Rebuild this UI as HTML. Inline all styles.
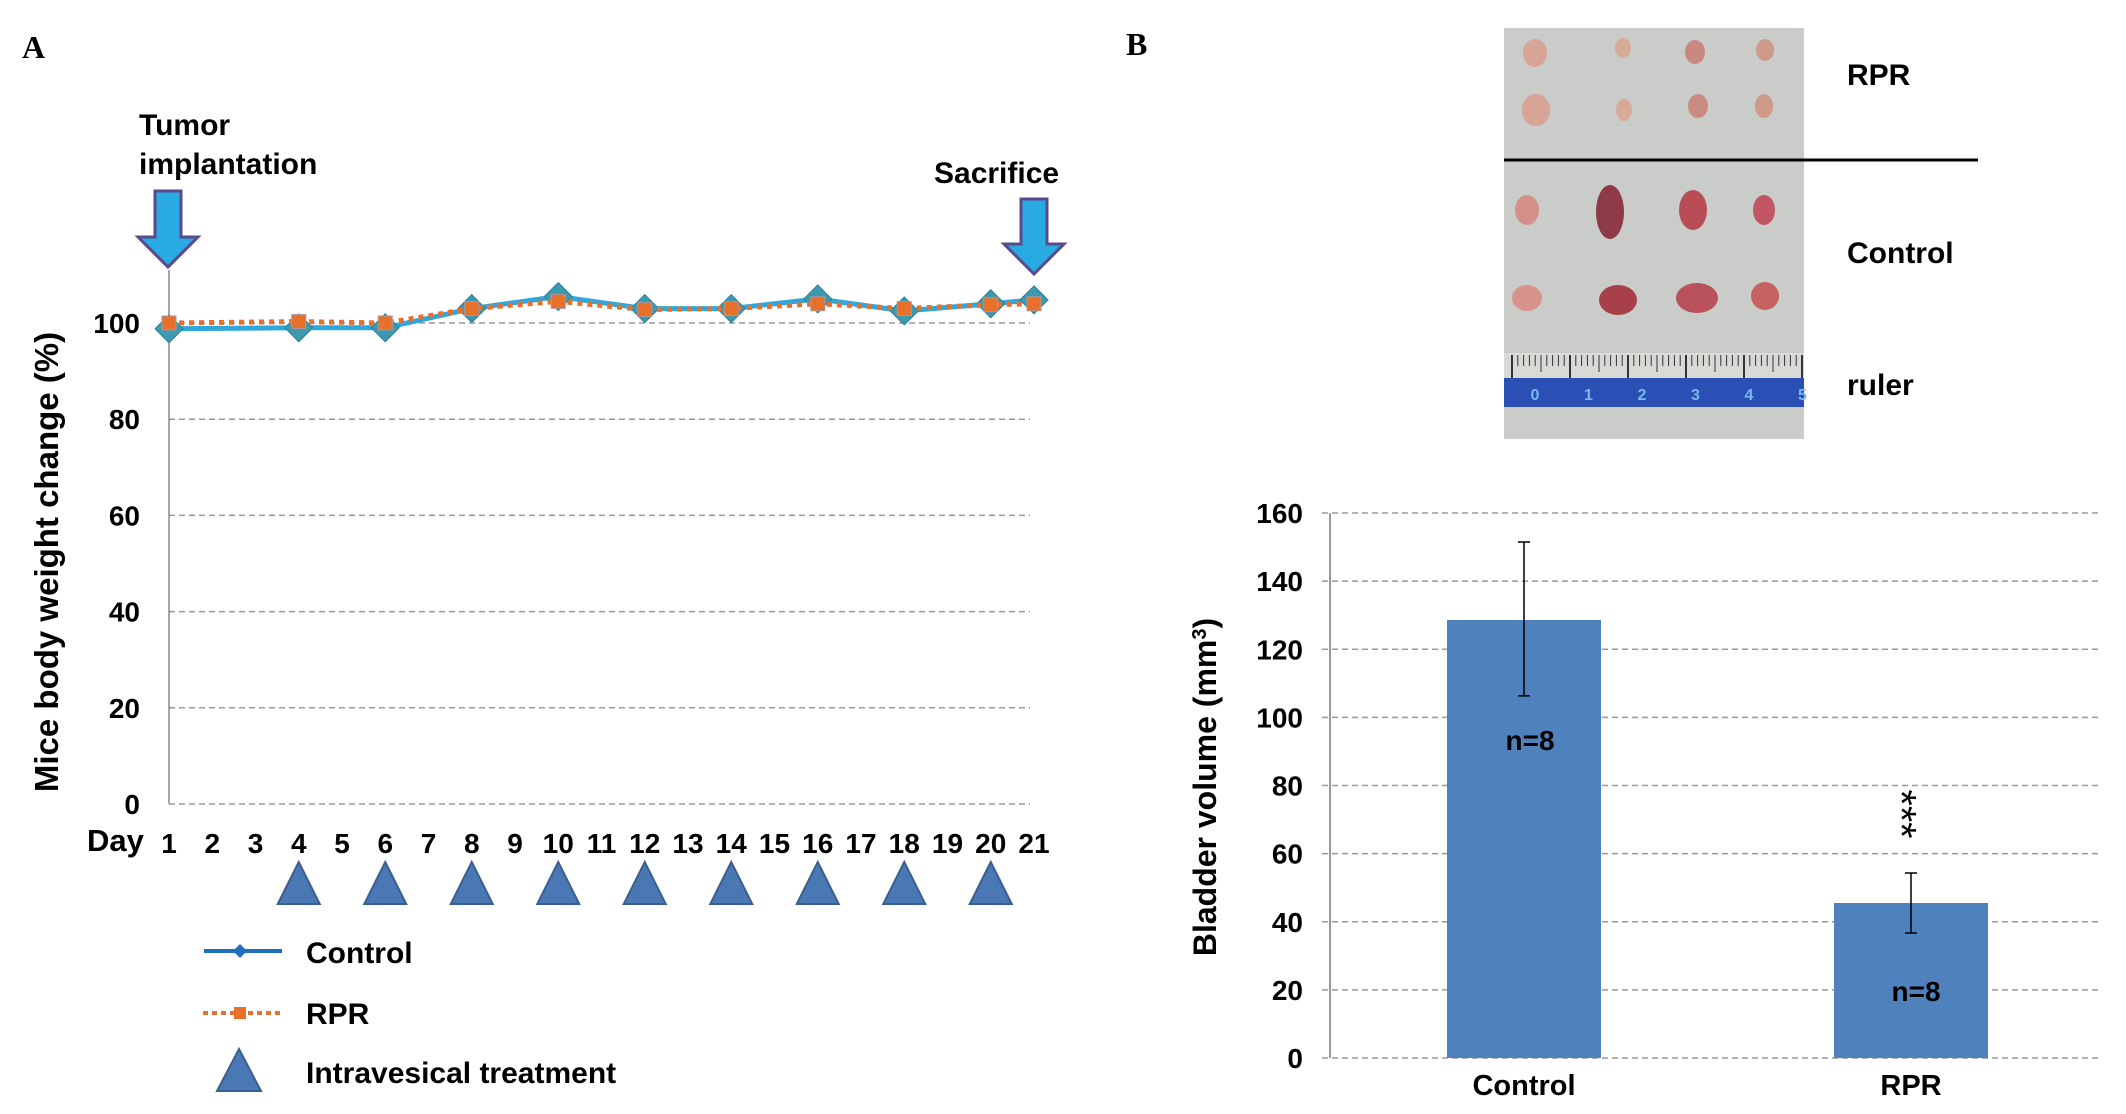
<!DOCTYPE html>
<html><head><meta charset="utf-8"><style>
body{margin:0;background:#fff;}
svg{display:block;font-family:"Liberation Sans",sans-serif;font-weight:bold;}
</style></head><body>
<svg width="2126" height="1114" viewBox="0 0 2126 1114">
<text x="22" y="58" font-family="Liberation Serif,serif" font-size="32">A</text>
<text x="1126" y="55" font-family="Liberation Serif,serif" font-size="32">B</text>
<g id="chartA"></g>
<g id="photo"></g>
<g id="chartB"></g>
</svg>
<script>
const days=[1,4,6,8,10,12,14,16,18,20,21];
const controlVals=[98.8,99,99,103,105.5,103,103,105,102.5,104,104.8];
const rprVals=[100,100.3,100,103,104.5,102.8,103,104,103,103.8,104];
const dayTicks=[1,2,3,4,5,6,7,8,9,10,11,12,13,14,15,16,17,18,19,20,21];
const treatDays=[4,6,8,10,12,14,16,18,20];
const yTicksA=[0,20,40,60,80,100];
const groups=["Control","RPR"];
const volumes=[128.6,45.5];
const errHi=[151.5,54.3];
const errLo=[106.3,36.7];
const yTicksB=[0,20,40,60,80,100,120,140,160];

const NS="http://www.w3.org/2000/svg";
function mk(p,tag,attrs,txt){const e=document.createElementNS(NS,tag);for(const k in attrs)e.setAttribute(k,attrs[k]);if(txt!==undefined)e.textContent=txt;p.appendChild(e);return e;}

// Panel A
const A=document.getElementById('chartA');
const xA=d=>169+(d-1)*43.25;
const yA=v=>804-v*4.81;
yTicksA.forEach(t=>{
 const g=mk(A,'line',{x1:169,x2:1030,y1:yA(t),y2:yA(t),stroke:'#999','stroke-width':1.5,'stroke-dasharray':'6 4'});
 
 
 const l=mk(A,'text',{x:140,y:yA(t)+10,'font-size':28,'text-anchor':'end'},t);
 
 
});
const ax=mk(A,'line',{x1:169,x2:169,y1:270,y2:804,stroke:'#888','stroke-width':1.5});


const yt=mk(A,'text',{x:0,y:0,'font-size':33,'text-anchor':'middle',transform:'translate(58,562) rotate(-90)'},'Mice body weight change (%)');


const dl=mk(A,'text',{x:87,y:851,'font-size':31},'Day');


dayTicks.forEach(d=>{
 const t=mk(A,'text',{x:xA(d),y:853,'font-size':28,'text-anchor':'middle'},d);
 
 
});
treatDays.forEach(d=>{
 const x=xA(d);
 const t=mk(A,'polygon',{points:`${x},862 ${x+21},904 ${x-21},904`,fill:'#4a78b4',stroke:'#3a5f8f','stroke-width':2});
 
 
});
const cl=mk(A,'polyline',{points:days.map((d,i)=>xA(d)+','+yA(controlVals[i])).join(' '),fill:'none',stroke:'#2fa6dc','stroke-width':5});


days.forEach((d,i)=>{
 const x=xA(d),y=yA(controlVals[i]);
 const m=mk(A,'polygon',{points:`${x},${y-14} ${x+14},${y} ${x},${y+14} ${x-14},${y}`,fill:'#3b9ab0',stroke:'#2c7f95','stroke-width':1});
 
 
});
const rl=mk(A,'polyline',{points:days.map((d,i)=>xA(d)+','+yA(rprVals[i])).join(' '),fill:'none',stroke:'#e8702a','stroke-width':5,'stroke-dasharray':'5 5'});


days.forEach((d,i)=>{
 const x=xA(d),y=yA(rprVals[i]);
 const m=mk(A,'rect',{x:x-7,y:y-7,width:14,height:14,fill:'#e8702a',stroke:'#a99','stroke-width':1});
 
 
});
function arrow(cx,top,tip){const head=tip-30;return `${cx-13},${top} ${cx+13},${top} ${cx+13},${head} ${cx+30},${head} ${cx},${tip} ${cx-30},${head} ${cx-13},${head}`;}
const a1=mk(A,'polygon',{points:arrow(168,191,267),fill:'#29aae2',stroke:'#5a4a8a','stroke-width':3});


const a2=mk(A,'polygon',{points:arrow(1034,199,274),fill:'#29aae2',stroke:'#5a4a8a','stroke-width':3});


const tt=mk(A,'text',{x:139,y:135,'font-size':30},'Tumor');


const tt2=mk(A,'text',{x:139,y:174,'font-size':30},'implantation');


const sc=mk(A,'text',{x:934,y:183,'font-size':30},'Sacrifice');


const lg1=mk(A,'line',{x1:204,x2:282,y1:951,y2:951,stroke:'#1f6fbf','stroke-width':4});


const lg1m=mk(A,'polygon',{points:'240,944 247,951 240,958 233,951',fill:'#1f6fbf'});


const lt1=mk(A,'text',{x:306,y:963,'font-size':30},'Control');


const lg2=mk(A,'line',{x1:203,x2:282,y1:1013,y2:1013,stroke:'#e8702a','stroke-width':4,'stroke-dasharray':'5 4'});


const lg2m=mk(A,'rect',{x:234,y:1007,width:12,height:12,fill:'#e8702a'});


const lt2=mk(A,'text',{x:306,y:1024,'font-size':30},'RPR');


const lg3=mk(A,'polygon',{points:'239,1049 261,1091 217,1091',fill:'#4a78b4',stroke:'#3a5f8f','stroke-width':2});


const lt3=mk(A,'text',{x:306,y:1083,'font-size':30},'Intravesical treatment');



// Photo
const P=document.getElementById('photo');
mk(P,'rect',{x:1504,y:28,width:300,height:411,fill:'#c9ccc8'});
mk(P,'rect',{x:1504,y:353,width:300,height:25,fill:'#d8dad6'});
for(let i=0;i<=50;i++){const x=1512+i*5.8;mk(P,'line',{x1:x,x2:x,y1:355,y2:i%10==0?378:(i%5==0?372:366),stroke:'#333','stroke-width':i%10==0?2:1});}
mk(P,'rect',{x:1504,y:378,width:300,height:29,fill:'#2a4fb5'});
['0','1','2','3','4','5'].forEach((s,i)=>mk(P,'text',{x:1535+i*53.5,y:400,'font-size':16,fill:'#7ab8f0','text-anchor':'middle'},s));
const blobs=[[1535,53,12,14,'#d8a496'],[1623,48,8,10,'#d8aa98'],[1695,52,10,12,'#c98880'],[1765,50,9,11,'#cf9a88'],
[1536,110,14,16,'#d8a496'],[1624,110,8,11,'#d8aa98'],[1698,106,10,12,'#c98a80'],[1764,106,9,12,'#cf9a88'],
[1527,210,12,15,'#d49088'],[1610,212,14,27,'#8f3a48'],[1693,210,14,20,'#b94d55'],[1764,210,11,15,'#c25563'],
[1527,298,15,13,'#d8948c'],[1618,300,19,15,'#a8404a'],[1697,298,21,15,'#b9525a'],[1765,296,14,14,'#c76060']];
blobs.forEach(b=>mk(P,'ellipse',{cx:b[0],cy:b[1],rx:b[2],ry:b[3],fill:b[4]}));
const pl=mk(P,'line',{x1:1504,x2:1978,y1:160,y2:160,stroke:'#000','stroke-width':3});


[['RPR',85],['Control',263],['ruler',395]].forEach(a=>{
 const t=mk(P,'text',{x:1847,y:a[1],'font-size':30},a[0]);
 
 
});

// Panel B
const B=document.getElementById('chartB');
const yB=v=>1058-v*(545/160);
const xB=[1524,1911];
yTicksB.forEach(t=>{
 const g=mk(B,'line',{x1:1322,x2:2100,y1:yB(t),y2:yB(t),stroke:'#999','stroke-width':1.5,'stroke-dasharray':'6 4'});
 
 
 const l=mk(B,'text',{x:1303,y:yB(t)+10,'font-size':28,'text-anchor':'end'},t);
 
 
});
const axB=mk(B,'line',{x1:1330,x2:1330,y1:513,y2:1058,stroke:'#999','stroke-width':2});


groups.forEach((g,i)=>{
 const x=xB[i];
 const r=mk(B,'rect',{x:x-77,y:yB(volumes[i]),width:154,height:yB(0)-yB(volumes[i]),fill:'#4f81bd'});
 
 
 const e=mk(B,'path',{d:`M${x},${yB(errHi[i])}V${yB(errLo[i])}M${x-6},${yB(errHi[i])}H${x+6}M${x-6},${yB(errLo[i])}H${x+6}`,stroke:'#000','stroke-width':1.5,fill:'none'});
 
 
 const c=mk(B,'text',{x:x,y:1095,'font-size':29,'text-anchor':'middle'},g);
 
 
});
const n1=mk(B,'text',{x:1530,y:750,'font-size':28,'text-anchor':'middle'},'n=8');


const n2=mk(B,'text',{x:1916,y:1001,'font-size':28,'text-anchor':'middle'},'n=8');


const st=mk(B,'text',{x:0,y:0,'font-size':42,'font-weight':'normal','text-anchor':'middle',transform:'translate(1887,814) rotate(90)'},'***');


const ytB=mk(B,'text',{x:0,y:0,'font-size':32,'text-anchor':'middle',transform:'translate(1216,787) rotate(-90)'});


ytB.innerHTML='Bladder volume (mm<tspan dy="-10" font-size="20">3</tspan><tspan dy="10">)</tspan>';
</script>
</body></html>
